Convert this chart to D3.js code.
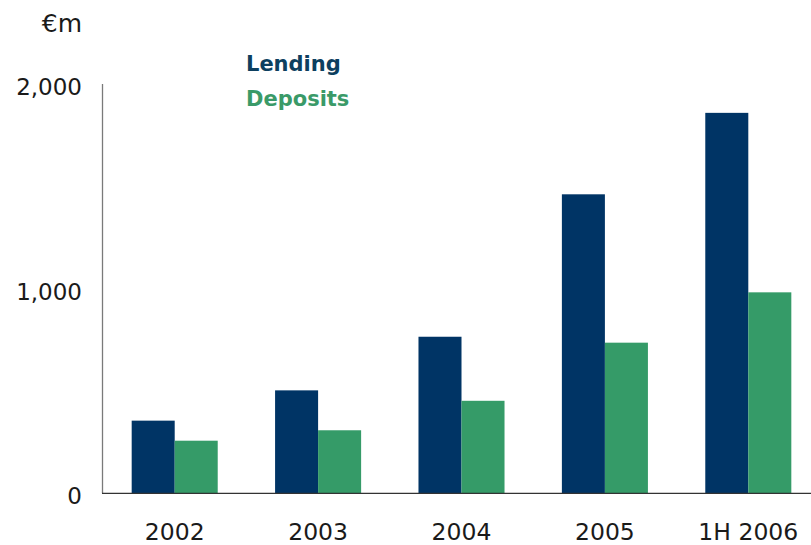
<!DOCTYPE html>
<html>
<head>
<meta charset="utf-8">
<script src="https://cdn.jsdelivr.net/npm/d3@7"></script>
<style>
  html, body { margin: 0; padding: 0; background: #fff; }
  svg { display: block; font-family: "DejaVu Sans", sans-serif; }
</style>
</head>
<body>
<svg id="chart" width="811" height="545"></svg>
<script>
const categories = ["2002", "2003", "2004", "2005", "1H 2006"];
const seriesNames = ["Lending", "Deposits"];
const lending = [355, 503, 765, 1461, 1859];
const deposits = [257, 308, 452, 736, 982];
const yTicks = [0, 1000, 2000];
const yTickLabels = ["0", "1,000", "2,000"];
const unitLabel = "€m";

const barColors = { Lending: "#003465", Deposits: "#359b68" };
const textColors = { Lending: "#0d3f5f", Deposits: "#3a9a68" };

const svg = d3.select("#chart");
const x0 = 103, yBase = 493.3, yTop = 84;

const x = d3.scaleBand().domain(categories).range([x0, 820]).paddingInner(0.4).paddingOuter(0.2);
const xs = d3.scaleBand().domain(seriesNames).range([0, x.bandwidth()]).padding(0);
const y = d3.scaleLinear().domain([0, 2000]).range([yBase, yTop]);

const data = categories.map((c, i) => ({ cat: c, Lending: lending[i], Deposits: deposits[i] }));

const g = svg.append("g");
g.selectAll("g.grp").data(data).join("g")
  .attr("class", "grp")
  .attr("transform", d => `translate(${x(d.cat)},0)`)
  .selectAll("rect")
  .data(d => seriesNames.map(s => ({ s, v: d[s] })))
  .join("rect")
  .attr("x", d => xs(d.s))
  .attr("width", xs.bandwidth())
  .attr("y", d => y(d.v))
  .attr("height", d => y(0) - y(d.v))
  .attr("fill", d => barColors[d.s]);

// Y axis line
svg.append("line")
  .attr("x1", x0 - 0.5).attr("x2", x0 - 0.5)
  .attr("y1", y(2000)).attr("y2", y(0))
  .attr("stroke", "#7a7a7a").attr("stroke-width", 1.3);

// Baseline
svg.append("line")
  .attr("x1", x0 - 1).attr("x2", 811)
  .attr("y1", y(0)).attr("y2", y(0))
  .attr("stroke", "#333").attr("stroke-width", 1.3);

// Y tick labels
svg.selectAll("text.ytick").data(yTicks).join("text")
  .attr("class", "ytick")
  .attr("x", 82)
  .attr("y", d => y(d) + 3)
  .attr("text-anchor", "end")
  .attr("dominant-baseline", "central")
  .attr("font-size", 23)
  .attr("fill", "#1a1a1a")
  .text((d, i) => yTickLabels[i]);

// X labels
svg.selectAll("text.xlab").data(categories).join("text")
  .attr("class", "xlab")
  .attr("x", d => x(d) + x.bandwidth() / 2)
  .attr("y", 540)
  .attr("text-anchor", "middle")
  .attr("font-size", 23.5)
  .attr("fill", "#1a1a1a")
  .text(d => d);

// Unit label
svg.append("text")
  .attr("x", 82).attr("y", 32)
  .attr("text-anchor", "end")
  .attr("font-size", 25)
  .attr("fill", "#1a1a1a")
  .text(unitLabel);

// Legend
svg.selectAll("text.leg").data(seriesNames).join("text")
  .attr("class", "leg")
  .attr("x", 246)
  .attr("y", (d, i) => 71 + i * 35)
  .attr("font-size", 21)
  .attr("font-weight", "bold")
  .attr("fill", d => textColors[d])
  .text(d => d);
</script>
</body>
</html>
